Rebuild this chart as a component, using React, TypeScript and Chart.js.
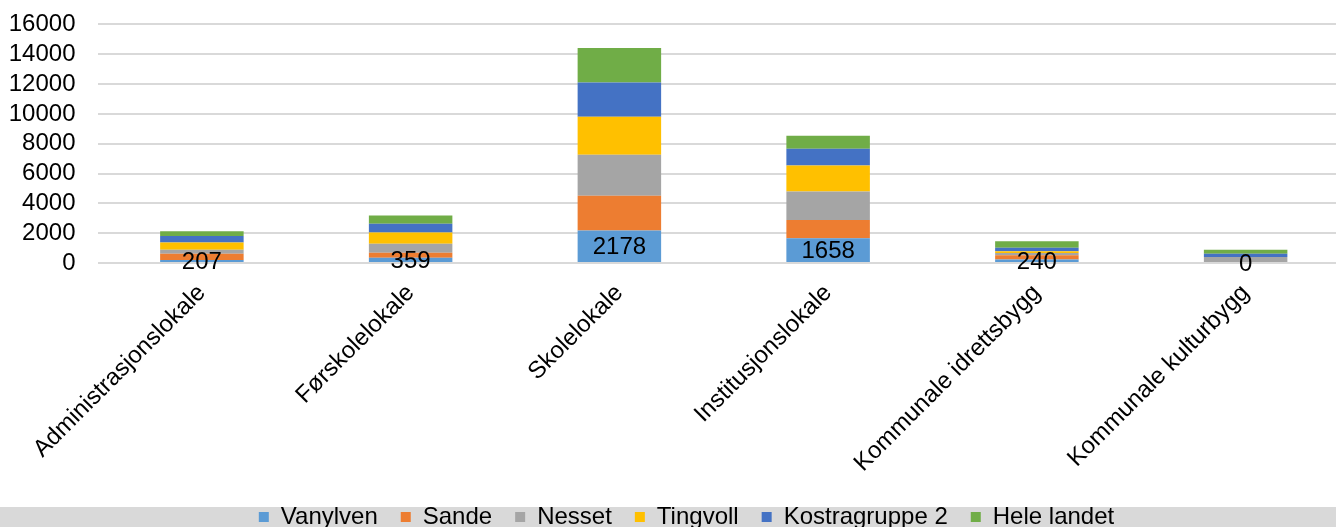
import React, { useEffect, useRef } from "react";
import { Chart, registerables } from "chart.js";

Chart.register(...registerables);

const categories = [
  "Administrasjonslokale",
  "Førskolelokale",
  "Skolelokale",
  "Institusjonslokale",
  "Kommunale idrettsbygg",
  "Kommunale kulturbygg",
];
const vanylven = [207, 359, 2178, 1658, 240, 0];
const sande = [411, 327, 2337, 1220, 280, 0];
const nesset = [265, 598, 2744, 1925, 150, 398];
const tingvoll = [491, 753, 2548, 1728, 120, 0];
const kostragruppe2 = [439, 597, 2298, 1129, 226, 220];
const heleLandet = [312, 553, 2305, 880, 445, 265];
const seriesNames = ["Vanylven", "Sande", "Nesset", "Tingvoll", "Kostragruppe 2", "Hele landet"];
const seriesColors = ["#5b9bd5", "#ed7d31", "#a5a5a5", "#ffc000", "#4472c4", "#70ad47"];
const yMin = 0;
const yMax = 16000;
const yStep = 2000;

const FONT = 'Arial, "Liberation Sans", sans-serif';
const FS = 24;
const SHIFT = 12;

const bandPlugin = {
  id: "legendBand",
  beforeDraw(chart: any) {
    const ctx = chart.ctx;
    ctx.save();
    ctx.fillStyle = "#d9d9d9";
    ctx.fillRect(0, 507 + SHIFT, chart.width, 20);
    ctx.restore();
  },
};

const labelPlugin = {
  id: "firstSeriesLabels",
  afterDatasetsDraw(chart: any) {
    const meta = chart.getDatasetMeta(0);
    const ctx = chart.ctx;
    ctx.save();
    ctx.font = `${FS}px ${FONT}`;
    ctx.fillStyle = "#000000";
    ctx.textAlign = "center";
    ctx.textBaseline = "middle";
    meta.data.forEach((el: any, i: number) => {
      const v = chart.data.datasets[0].data[i];
      const yc = (el.y + el.base) / 2 + 1.5;
      ctx.fillText(String(v), el.x, yc);
    });
    ctx.restore();
  },
};

export default function App() {
  const ref = useRef<HTMLCanvasElement | null>(null);
  useEffect(() => {
    if (!ref.current) return;
    const all = [vanylven, sande, nesset, tingvoll, kostragruppe2, heleLandet];
    const chart = new Chart(ref.current, {
      type: "bar",
      data: {
        labels: categories,
        datasets: all.map((d, i) => ({
          label: seriesNames[i],
          data: d,
          backgroundColor: seriesColors[i],
          borderWidth: 0,
          barPercentage: 0.4,
          categoryPercentage: 1.0,
        })),
      },
      options: {
        responsive: false,
        animation: false,
        devicePixelRatio: 1,
        layout: { padding: { top: 0, left: 0, right: 0, bottom: 0 } },
        plugins: {
          tooltip: { enabled: false },
          legend: {
            position: "bottom",
            labels: {
              boxWidth: 10,
              boxHeight: 10,
              padding: 23,
              color: "#000000",
              font: { family: FONT, size: FS },
            },
          },
        },
        scales: {
          x: {
            stacked: true,
            grid: { display: false },
            border: { display: false },
            ticks: {
              minRotation: 45,
              maxRotation: 45,
              autoSkip: false,
              padding: 8,
              color: "#000000",
              font: { family: FONT, size: FS },
            },
            afterFit(scale: any) {
              const lh = scale.chart.legend ? scale.chart.legend.height : 70;
              scale.height = scale.chart.height - lh - (263 + SHIFT);
            },
          },
          y: {
            stacked: true,
            min: yMin,
            max: yMax,
            ticks: {
              stepSize: yStep,
              autoSkip: false,
              padding: 22,
              color: "#000000",
              font: { family: FONT, size: FS },
              callback: (v: any) => String(v),
            },
            grid: { color: "#d9d9d9", lineWidth: 2, drawTicks: false },
            border: { display: false },
            afterFit(scale: any) {
              scale.width = 97.5;
            },
          },
          y2: {
            position: "right",
            display: true,
            grid: { display: false },
            border: { display: false },
            ticks: { display: false },
            afterFit(scale: any) {
              scale.width = 23;
            },
          },
        },
      },
      plugins: [bandPlugin, labelPlugin],
    });
    return () => chart.destroy();
  }, []);
  return (
    <div
      style={{
        position: "fixed",
        left: 0,
        top: 0,
        width: 1336,
        height: 527,
        overflow: "hidden",
        background: "#ffffff",
      }}
    >
      <canvas
        ref={ref}
        width={1373}
        height={539 + SHIFT}
        style={{ display: "block", marginTop: -SHIFT }}
      />
    </div>
  );
}
